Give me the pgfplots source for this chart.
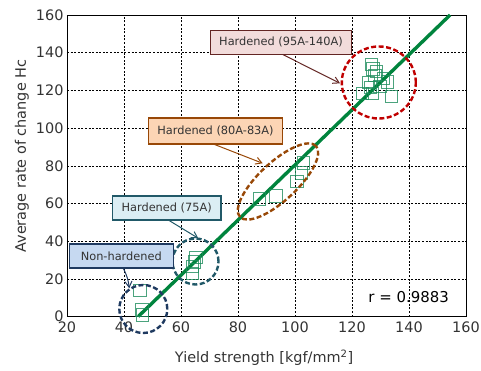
\documentclass[border=0pt]{standalone}
\usepackage{pgfplots}
\pgfplotsset{compat=1.18}
\usepackage{fontspec}
\setmainfont{DejaVu Sans}
\usetikzlibrary{arrows.meta}
\definecolor{lineg}{HTML}{00843D}
\definecolor{markg}{HTML}{1E8C5C}
\definecolor{redc}{HTML}{C00000}
\definecolor{maroon}{HTML}{632523}
\definecolor{pinkf}{HTML}{F2DCDB}
\definecolor{brownc}{HTML}{984807}
\definecolor{peachf}{HTML}{FCD5B5}
\definecolor{tealc}{HTML}{215968}
\definecolor{cyanf}{HTML}{DBEEF4}
\definecolor{navyc}{HTML}{1F3A60}
\definecolor{bluef}{HTML}{C6D9F1}
\definecolor{txt}{HTML}{333333}
\begin{document}
\begin{tikzpicture}
\useasboundingbox (-67bp,-54.5bp) rectangle (414bp,316.5bp);
\begin{axis}[
  scale only axis, width=399bp, height=301.5bp,
  at={(0,0)}, anchor=south west,
  xmin=20, xmax=160, ymin=0, ymax=160,
  xtick={20,40,...,160}, ytick={0,20,...,160},
  grid=major,
  major grid style={black, dash pattern=on 2pt off 1.6pt, line width=0.45pt},
  axis line style={black, line width=0.6pt},
  tick style={draw=none},
  /pgf/number format/assume math mode=true,
  tick label style={font=\fontsize{14.5}{17}\selectfont, text=txt},
  xticklabel style={yshift=-1.5bp},
  xlabel={Yield strength [kgf/mm\textsuperscript{2}]},
  ylabel={Average rate of change Hc},
  every axis x label/.style={at={(axis description cs:0.494,-0.1366)}, anchor=center, font=\fontsize{14.5}{17}\selectfont, text=txt},
  every axis y label/.style={at={(axis description cs:-0.1128,0.532)}, rotate=90, anchor=center, font=\fontsize{14.5}{17}\selectfont, text=txt},
  clip=false,
]
\addplot[lineg, line width=3.4pt] coordinates {(45,0) (154.4,160)};
\addplot[only marks, mark=square, mark size=6.2bp, draw=markg, line width=0.8pt, draw opacity=0.8] coordinates {
 (45.6,14) (46.3,3.5) (46.5,0.8)
 (65.2,31.5) (64.8,29) (64,26.5) (64,23)
 (87.5,62.5) (93.3,64) (100.6,71.6) (102.3,76.3) (102.9,81.6)
 (126.9,133.8) (127.3,131.4) (128,127.8) (125.7,124.3) (132.5,124.6) (129.8,122)
 (123.6,118.5) (127.1,118.5) (133.9,116.7) (126.5,121.5) (131,126.5) (128.5,130)
};
\end{axis}
% ellipses
\draw[navyc, line width=2.4pt, dash pattern=on 5bp off 2.5bp] (76.3bp,7.5bp) ellipse [x radius=24bp, y radius=24bp];
\draw[tealc, line width=2.4pt, dash pattern=on 5bp off 2.5bp] (128.5bp,55bp) ellipse [x radius=23bp, y radius=23bp];
\draw[brownc, line width=2.4pt, dash pattern=on 5bp off 2.5bp, rotate around={43:(211bp,135bp)}] (211bp,135bp) ellipse [x radius=52bp, y radius=19bp];
\draw[redc, line width=2.4pt, dash pattern=on 5bp off 2.5bp] (311.8bp,234bp) ellipse [x radius=37bp, y radius=36bp];
% boxes
\tikzset{box/.style={draw, line width=1.4pt, inner xsep=9bp, minimum height=24bp, font=\fontsize{11.4}{13}\selectfont, text=txt},
 arr/.style={line width=1pt, -{Straight Barb[length=6bp,width=7bp]}}}
\draw[arr, maroon] (214.7bp,262.5bp) -- (273bp,233.2bp);
\node[box, draw=maroon, fill=pinkf] at (214bp,274.2bp) {Hardened (95A-140A)};
\draw[arr, brownc] (146.3bp,172.5bp) -- (195.7bp,153.2bp);
\node[box, draw=brownc, fill=peachf, minimum height=26bp] at (148.5bp,185.5bp) {Hardened (80A-83A)};
\draw[arr, tealc] (101.3bp,96.5bp) -- (131.3bp,78.2bp);
\node[box, draw=tealc, fill=cyanf] at (99.7bp,108.5bp) {Hardened (75A)};
\draw[arr, navyc] (56.3bp,48.2bp) to[bend left=10] (62.3bp,28.2bp);
\node[box, draw=navyc, fill=bluef, minimum width=104bp] at (54.3bp,60.5bp) {Non-hardened};
\node[font=\fontsize{15}{18}\selectfont, text=black] at (341.7bp,19bp) {r = 0.9883};
\end{tikzpicture}
\end{document}
